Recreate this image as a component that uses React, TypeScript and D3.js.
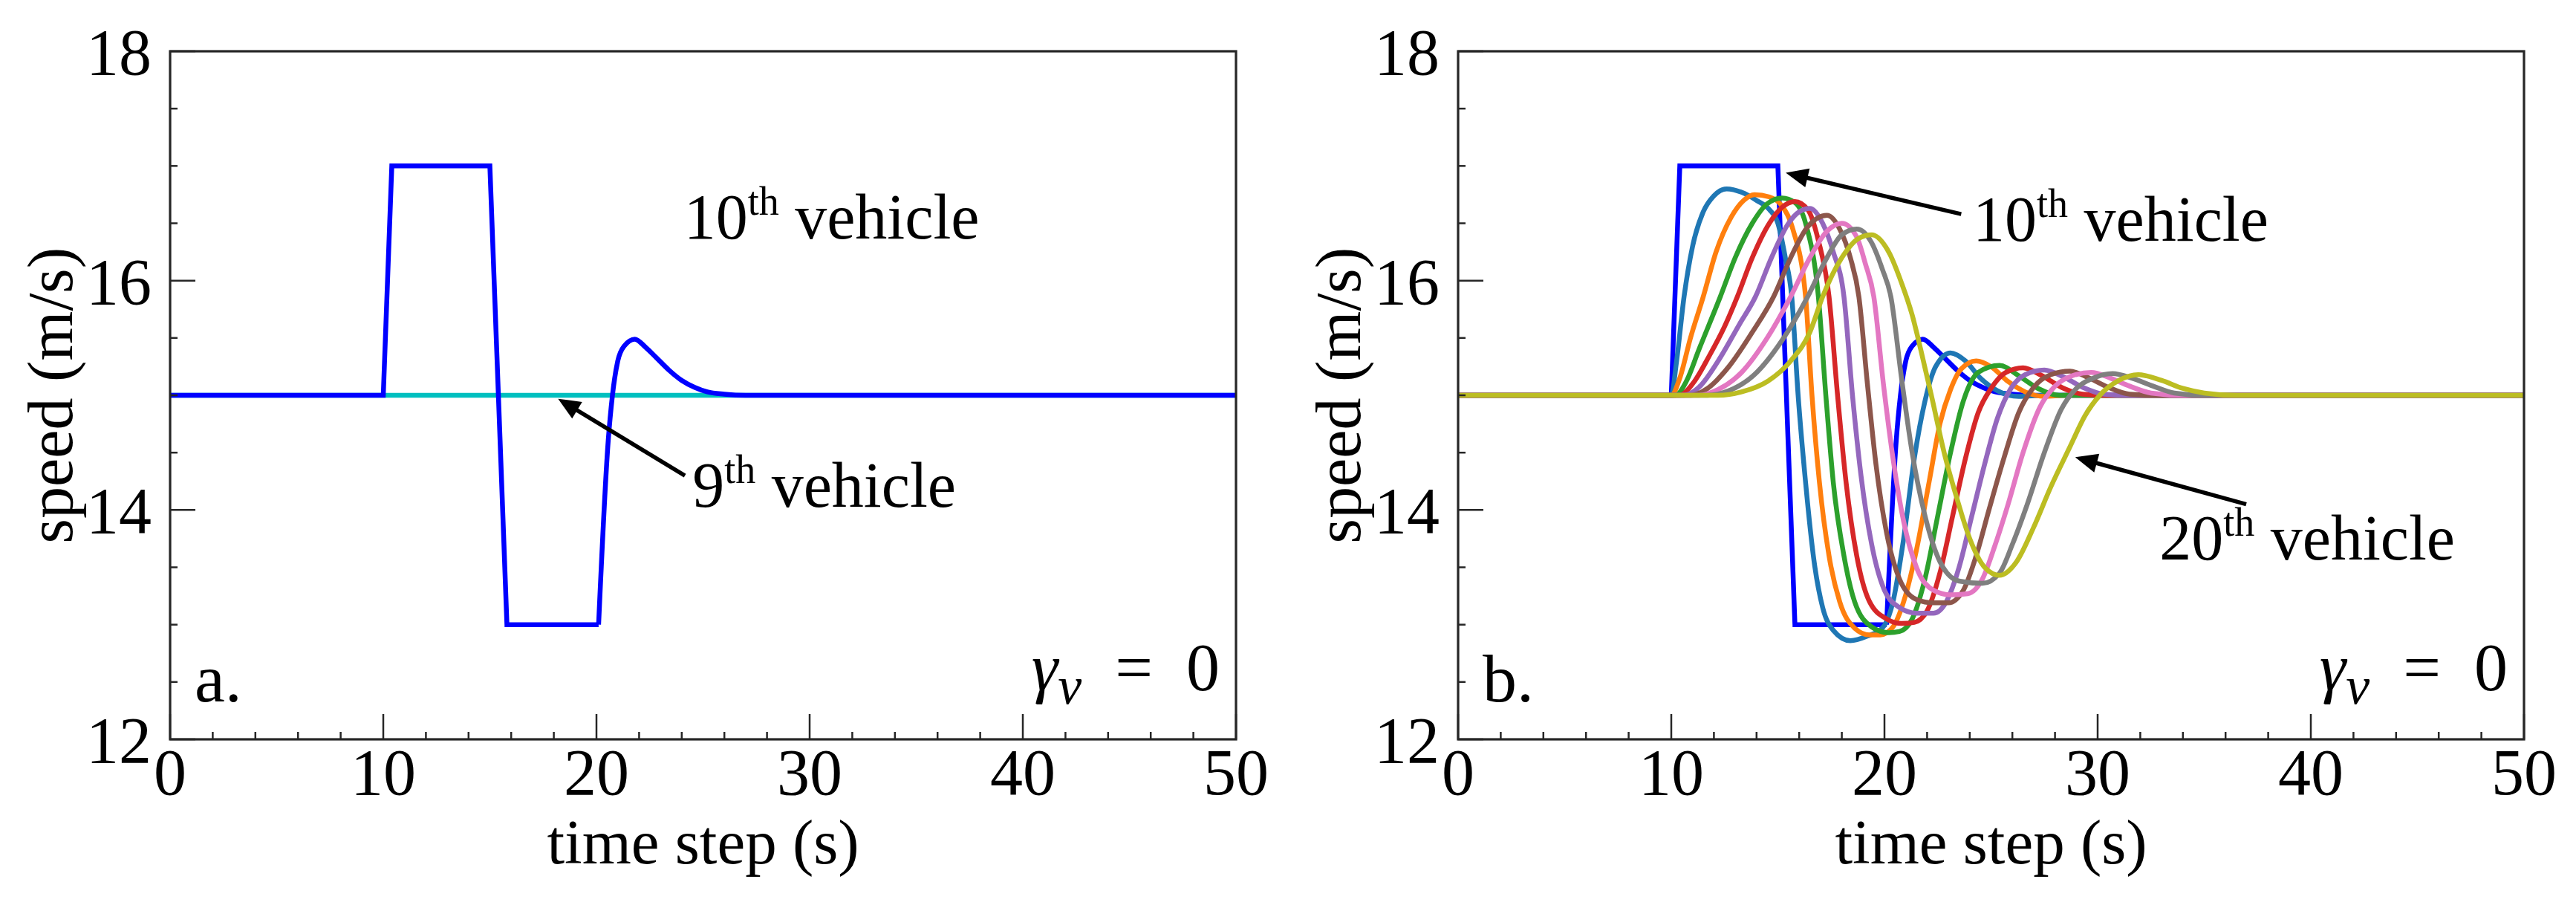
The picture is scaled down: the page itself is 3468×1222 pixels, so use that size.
import React from 'react';
import * as d3 from 'd3';

type P = [number, number];

const W = 3468;
const H = 1222;
const FONT = "'Liberation Serif', 'Times New Roman', Times, serif";

// axis ticks
const TIME_TICKS = [0, 10, 20, 30, 40, 50];
const SPEED_TICKS = [12, 14, 16, 18];
const TIME_DOMAIN: P = [0, 50];
const SPEED_DOMAIN: P = [12, 18];

// 9th vehicle (panel a, constant speed)
const VEH9: P[] = [[0, 15], [50, 15]];

// 10th vehicle: pulse part (straight segments) and smooth recovery
const VEH10_PULSE: P[] = [[0, 15], [10, 15], [10.4, 17], [15, 17], [15.8, 13], [20.1, 13]];
const VEH10_RECOVER: P[] = [[20.1, 13], [20.55, 14.6], [20.75, 15.0], [21.0, 15.3], [21.3, 15.43], [21.8, 15.49], [22.3, 15.42], [22.8, 15.33], [23.4, 15.22], [24.0, 15.13], [24.6, 15.07], [25.2, 15.03], [26, 15.01], [27, 15], [50, 15]];

// followers in panel b
const VEH11: P[] = [[0,15],[10,15],[10.25,15.3],[10.6,15.86],[11.0,16.3],[11.5,16.6],[12.0,16.74],[12.6,16.8],[13.3,16.77],[14.0,16.7],[14.6,16.62],[15.0,16.5],[15.35,16.2],[15.65,15.86],[15.95,15.0],[16.3,14.24],[16.7,13.55],[17.1,13.15],[17.6,12.95],[18.4,12.86],[19.2,12.9],[19.9,12.97],[20.4,13.2],[20.9,13.75],[21.4,14.45],[21.9,14.95],[22.4,15.25],[23.1,15.37],[23.8,15.3],[24.5,15.15],[25.3,15.04],[26.3,14.99],[27.5,15],[50,15]];
const VEH12: P[] = [[0,15],[10,15],[10.4,15.15],[10.9,15.5],[11.5,15.86],[12.1,16.25],[12.8,16.55],[13.4,16.7],[13.9,16.75],[14.6,16.73],[15.2,16.65],[15.7,16.45],[16.3,15.86],[16.6,15.0],[16.95,14.24],[17.4,13.6],[17.9,13.2],[18.6,12.97],[19.3,12.91],[19.8,12.91],[20.4,12.98],[20.9,13.2],[21.5,13.65],[22.1,14.25],[22.6,14.75],[23.1,15.05],[23.6,15.23],[24.3,15.3],[25.0,15.25],[25.8,15.12],[26.6,15.03],[27.5,14.99],[28.5,15],[50,15]];
const VEH13: P[] = [[0,15],[10.2,15],[10.7,15.12],[11.3,15.4],[12.3,15.86],[13.0,16.2],[13.8,16.5],[14.5,16.67],[15.2,16.72],[15.8,16.68],[16.3,16.5],[16.9,15.86],[17.25,15.0],[17.6,14.24],[18.1,13.6],[18.6,13.2],[19.4,12.98],[20.2,12.93],[20.7,12.94],[21.3,13.05],[21.9,13.4],[22.5,13.95],[23.1,14.5],[23.7,14.95],[24.4,15.2],[25.4,15.26],[26.3,15.17],[27.2,15.06],[28.2,15.0],[29.5,15],[50,15]];
const VEH14: P[] = [[0,15],[10.4,15],[11.0,15.1],[11.8,15.35],[12.5,15.6],[13.1,15.86],[13.8,16.2],[14.6,16.5],[15.2,16.64],[15.8,16.69],[16.4,16.62],[16.9,16.35],[17.4,15.86],[17.8,15.0],[18.2,14.24],[18.7,13.6],[19.3,13.2],[20.1,13.05],[20.8,13.01],[21.4,13.02],[22.0,13.12],[22.6,13.45],[23.2,13.95],[23.8,14.45],[24.4,14.85],[25.0,15.06],[25.7,15.2],[26.5,15.24],[27.4,15.17],[28.3,15.07],[29.3,15.01],[30.5,15],[50,15]];
const VEH15: P[] = [[0,15],[10.6,15],[11.3,15.07],[12.2,15.3],[13.2,15.62],[13.95,15.86],[14.7,16.2],[15.5,16.5],[16.0,16.6],[16.5,16.63],[17.1,16.5],[17.6,16.25],[18.1,15.86],[18.5,15.0],[18.9,14.3],[19.4,13.7],[20.0,13.3],[20.7,13.15],[21.5,13.1],[22.3,13.1],[22.9,13.2],[23.5,13.5],[24.1,13.95],[24.7,14.4],[25.3,14.8],[25.9,15.05],[26.6,15.18],[27.5,15.22],[28.4,15.16],[29.3,15.07],[30.3,15.01],[31.5,15],[50,15]];
const VEH16: P[] = [[0,15],[10.9,15],[11.7,15.06],[12.7,15.25],[13.8,15.55],[14.8,15.86],[15.6,16.2],[16.4,16.47],[17.3,16.57],[17.9,16.45],[18.4,16.2],[18.8,15.86],[19.2,15.1],[19.6,14.4],[20.1,13.8],[20.7,13.4],[21.5,13.22],[22.3,13.19],[23.0,13.19],[23.7,13.3],[24.3,13.6],[24.9,14.0],[25.6,14.45],[26.3,14.85],[27.0,15.07],[27.8,15.18],[28.7,15.21],[29.6,15.15],[30.5,15.07],[31.5,15.01],[33,15],[50,15]];
const VEH17: P[] = [[0,15],[11.3,15],[12.2,15.05],[13.3,15.2],[14.5,15.5],[15.6,15.86],[16.5,16.2],[17.3,16.43],[18.0,16.5],[18.7,16.38],[19.1,16.15],[19.5,15.86],[19.95,15.1],[20.4,14.45],[20.9,13.9],[21.5,13.5],[22.3,13.3],[23.1,13.26],[23.9,13.27],[24.6,13.4],[25.2,13.7],[25.8,14.05],[26.5,14.5],[27.3,14.9],[28.0,15.08],[28.8,15.17],[29.7,15.2],[30.6,15.15],[31.5,15.08],[32.5,15.02],[34,15],[50,15]];
const VEH18: P[] = [[0,15],[11.7,15],[12.7,15.04],[13.9,15.18],[15.2,15.48],[16.4,15.86],[17.3,16.2],[18.0,16.4],[18.7,16.45],[19.4,16.33],[19.9,16.1],[20.3,15.86],[20.8,15.15],[21.3,14.5],[21.9,13.95],[22.6,13.55],[23.5,13.38],[24.6,13.36],[25.4,13.45],[26.0,13.7],[26.7,14.05],[27.5,14.5],[28.3,14.88],[29.0,15.06],[29.8,15.15],[30.7,15.19],[31.6,15.15],[32.6,15.08],[33.6,15.02],[35,15],[50,15]];
const VEH19: P[] = [[0,15],[12.2,15],[13.3,15.03],[14.5,15.12],[15.6,15.3],[16.5,15.55],[17.1,15.86],[18.0,16.2],[18.8,16.37],[19.4,16.4],[20.2,16.25],[20.8,15.98],[21.3,15.7],[21.7,15.4],[22.2,15.0],[22.8,14.5],[23.4,14.1],[24.0,13.75],[24.7,13.5],[25.4,13.43],[26.2,13.55],[27.0,13.85],[27.8,14.2],[28.7,14.55],[29.4,14.82],[30.1,15.0],[31.0,15.13],[31.9,15.18],[33.0,15.13],[34.0,15.06],[35.0,15.02],[36.5,15],[50,15]];

const FOLLOWERS: P[][] = [VEH11, VEH12, VEH13, VEH14, VEH15, VEH16, VEH17, VEH18, VEH19];
const FOLLOWER_COLORS = ['#1f77b4', '#ff7f0e', '#2ca02c', '#d62728', '#9467bd', '#8c564b', '#e377c2', '#7f7f7f', '#bcbd22'];
const LEAD_COLOR = '#0000ff';
const VEH9_COLOR = '#00bfbf';

// layout
const PLOT_TOP = 69;
const PLOT_BOTTOM = 995;
const PANEL_A = { left: 229, right: 1664 };
const PANEL_B = { left: 1963, right: 3398 };

const LW = 6.5;
const AXIS_COLOR = '#262626';
const TICK_FS = 88;

function Axes({ x, y, label }: { x: d3.ScaleLinear<number, number>; y: d3.ScaleLinear<number, number>; label: string }) {
  const [l, r] = x.range();
  const [b, t] = y.range();
  const minorX = x.ticks(25).filter((v) => !TIME_TICKS.includes(v));
  const minorY = y.ticks(12).filter((v) => !SPEED_TICKS.includes(v));
  return (
    <g>
      {minorX.map((v) => (
        <line key={'mx' + v} x1={x(v)} x2={x(v)} y1={b} y2={b - 10} stroke={AXIS_COLOR} strokeWidth={2.5} />
      ))}
      {TIME_TICKS.map((v) => (
        <line key={'Mx' + v} x1={x(v)} x2={x(v)} y1={b} y2={b - 34} stroke={AXIS_COLOR} strokeWidth={2.5} />
      ))}
      {minorY.map((v) => (
        <line key={'my' + v} x1={l} x2={l + 10} y1={y(v)} y2={y(v)} stroke={AXIS_COLOR} strokeWidth={2.5} />
      ))}
      {SPEED_TICKS.map((v) => (
        <line key={'My' + v} x1={l} x2={l + 34} y1={y(v)} y2={y(v)} stroke={AXIS_COLOR} strokeWidth={2.5} />
      ))}
      <rect x={l} y={t} width={r - l} height={b - t} fill="none" stroke={AXIS_COLOR} strokeWidth={3.2} />
      {TIME_TICKS.map((v) => (
        <text key={'tx' + v} x={x(v)} y={b + 74} textAnchor="middle" fontSize={TICK_FS} fontFamily={FONT} fill="#000">
          {v}
        </text>
      ))}
      {SPEED_TICKS.map((v) => (
        <text key={'ty' + v} x={l - 25} y={y(v) + 31} textAnchor="end" fontSize={TICK_FS} fontFamily={FONT} fill="#000">
          {v}
        </text>
      ))}
      <text x={(l + r) / 2} y={1162} textAnchor="middle" fontSize={85} fontFamily={FONT} fill="#000">
        time step (s)
      </text>
      <text
        transform={`translate(${l - 132},${(t + b) / 2}) rotate(-90)`}
        textAnchor="middle"
        fontSize={86}
        fontFamily={FONT}
        fill="#000"
      >
        speed (m/s)
      </text>
      <text x={x(1.15)} y={y(12.33)} fontSize={92} fontFamily={FONT} fill="#000">
        {label}
      </text>
      <text x={r - 22} y={y(12.43)} textAnchor="end" fontSize={90} fontFamily={FONT} fill="#000" style={{ whiteSpace: 'pre' }}>
        <tspan fontStyle="italic">γ</tspan>
        <tspan fontStyle="italic" fontSize={72} dy={18}>v</tspan>
        <tspan dy={-18}>{'  =  0'}</tspan>
      </text>
    </g>
  );
}

function Arrow({ x1, y1, x2, y2 }: { x1: number; y1: number; x2: number; y2: number }) {
  const dx = x2 - x1;
  const dy = y2 - y1;
  const len = Math.hypot(dx, dy);
  const ux = dx / len;
  const uy = dy / len;
  const hl = 30;
  const hw = 13;
  const bx = x2 - ux * hl;
  const by = y2 - uy * hl;
  const pts = [
    [x2, y2],
    [bx - uy * hw, by + ux * hw],
    [bx + uy * hw, by - ux * hw],
  ];
  return (
    <g>
      <line x1={x1} y1={y1} x2={bx + ux * 4} y2={by + uy * 4} stroke="#000" strokeWidth={5.5} />
      <polygon points={pts.map((p) => p.join(',')).join(' ')} fill="#000" />
    </g>
  );
}

function Label({ x, y, num }: { x: number; y: number; num: string }) {
  return (
    <text x={x} y={y} fontSize={86} fontFamily={FONT} fill="#000" style={{ whiteSpace: 'pre' }}>
      {num}
      <tspan fontSize={54} dy={-32}>th</tspan>
      <tspan dy={32}>{' vehicle'}</tspan>
    </text>
  );
}

export default function App() {
  const y = d3.scaleLinear().domain(SPEED_DOMAIN).range([PLOT_BOTTOM, PLOT_TOP]);
  const xa = d3.scaleLinear().domain(TIME_DOMAIN).range([PANEL_A.left, PANEL_A.right]);
  const xb = d3.scaleLinear().domain(TIME_DOMAIN).range([PANEL_B.left, PANEL_B.right]);

  const linA = d3.line<P>().x((d) => xa(d[0])).y((d) => y(d[1]));
  const smA = d3.line<P>().x((d) => xa(d[0])).y((d) => y(d[1])).curve(d3.curveMonotoneX);
  const linB = d3.line<P>().x((d) => xb(d[0])).y((d) => y(d[1]));
  const smB = d3.line<P>().x((d) => xb(d[0])).y((d) => y(d[1])).curve(d3.curveMonotoneX);

  const common = { fill: 'none', strokeWidth: LW, strokeLinejoin: 'round' as const, strokeLinecap: 'butt' as const };

  return (
    <svg width={W} height={H} style={{ position: 'absolute', left: 0, top: 0, background: '#fff' }}>
      <rect x={0} y={0} width={W} height={H} fill="#fff" />
      {/* Panel a */}
      <g>
        <path d={linA(VEH9) || ''} stroke={VEH9_COLOR} {...common} />
        <path d={linA(VEH10_PULSE) || ''} stroke={LEAD_COLOR} {...common} strokeLinejoin="miter" />
        <path d={smA(VEH10_RECOVER) || ''} stroke={LEAD_COLOR} {...common} />
        <Axes x={xa} y={y} label="a." />
        <Label x={xa(24.1)} y={y(16.37)} num="10" />
        <Label x={xa(24.5)} y={y(14.03)} num="9" />
        <Arrow x1={xa(24.15)} y1={y(14.3)} x2={xa(18.2)} y2={y(14.97)} />
      </g>
      {/* Panel b */}
      <g>
        <path d={linB(VEH10_PULSE) || ''} stroke={LEAD_COLOR} {...common} strokeLinejoin="miter" />
        <path d={smB(VEH10_RECOVER) || ''} stroke={LEAD_COLOR} {...common} />
        {FOLLOWERS.map((s, i) => (
          <path key={i} d={smB(s) || ''} stroke={FOLLOWER_COLORS[i]} {...common} />
        ))}
        <Axes x={xb} y={y} label="b." />
        <Label x={xb(24.15)} y={y(16.35)} num="10" />
        <Arrow x1={xb(23.6)} y1={y(16.58)} x2={xb(15.37)} y2={y(16.94)} />
        <Label x={xb(32.9)} y={y(13.57)} num="20" />
        <Arrow x1={xb(36.97)} y1={y(14.05)} x2={xb(28.95)} y2={y(14.46)} />
      </g>
    </svg>
  );
}
